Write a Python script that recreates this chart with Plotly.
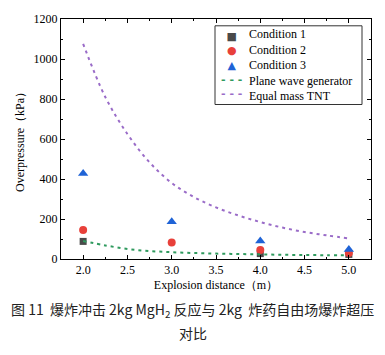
import plotly.graph_objects as go

# ---- data ----
distance = [2.0, 3.0, 4.0, 5.0]
cond1 = [88, None, 27, 23]
cond2 = [145, 82, 45, 30]
cond3 = [427, 186, 90, 47]

curve_x = [2.0, 2.25, 2.5, 2.75, 3.0, 3.25, 3.5, 3.75, 4.0, 4.25, 4.5, 4.75, 5.0]
plane_wave = [90, 68, 50, 40, 34, 30, 27, 25, 23, 21, 20, 19, 18]
tnt = [1076, 810, 625, 483, 380, 310, 258, 218, 185, 157, 135, 118, 103]

x_ticks = [2.0, 2.5, 3.0, 3.5, 4.0, 4.5, 5.0]
x_tick_labels = ["2.0", "2.5", "3.0", "3.5", "4.0", "4.5", "5.0"]
y_ticks = [0, 200, 400, 600, 800, 1000, 1200]

names = ["Condition 1", "Condition 2", "Condition 3", "Plane wave generator", "Equal mass TNT"]
colors = ["#4a4a4a", "#e8403a", "#1f63d6", "#2f9a5e", "#9a6cc8"]

FONT = "Liberation Serif, Times New Roman, serif"

fig = go.Figure()
fig.add_trace(go.Scatter(x=distance, y=cond1, mode="markers", name=names[0],
                         marker=dict(symbol="square", size=7, color=colors[0])))
fig.add_trace(go.Scatter(x=distance, y=cond2, mode="markers", name=names[1],
                         marker=dict(symbol="circle", size=8, color=colors[1])))
fig.add_trace(go.Scatter(x=distance, y=cond3, mode="markers", name=names[2],
                         marker=dict(symbol="triangle-up", size=9, color=colors[2])))
fig.add_trace(go.Scatter(x=curve_x, y=plane_wave, mode="lines", name=names[3],
                         line=dict(color=colors[3], width=2, dash="3px,4px", shape="spline")))
fig.add_trace(go.Scatter(x=curve_x, y=tnt, mode="lines", name=names[4],
                         line=dict(color=colors[4], width=2, dash="3px,4px", shape="spline")))

axis_common = dict(showline=True, linecolor="black", linewidth=1, mirror="allticks",
                   ticks="inside", ticklen=4, tickcolor="black", showgrid=False,
                   zeroline=False, ticklabeloverflow="allow",
                   tickfont=dict(family=FONT, size=12, color="black"))

fig.update_xaxes(range=[1.75, 5.25], tickvals=x_ticks, ticktext=x_tick_labels,
                 minor=dict(ticks="inside", tickvals=[2.25, 2.75, 3.25, 3.75, 4.25, 4.75],
                            ticklen=2, tickcolor="black"),
                 title=dict(text="Explosion distance（m）", font=dict(family=FONT, size=12, color="black"),
                            standoff=4),
                 **axis_common)
fig.update_yaxes(range=[0, 1200], tickvals=y_ticks,
                 minor=dict(ticks="inside", tickvals=[100, 300, 500, 700, 900, 1100],
                            ticklen=2, tickcolor="black"),
                 title=dict(text="Overpressure（kPa）", font=dict(family=FONT, size=12, color="black"),
                            standoff=6),
                 **axis_common)

W, H = 369, 339
L, R, T, B = 53, 6, 4, 88
plot_w = W - L - R
plot_h = H - T - B

fig.update_layout(
    width=W, height=H,
    margin=dict(l=L, r=R, t=T, b=B),
    plot_bgcolor="white", paper_bgcolor="white",
    font=dict(family=FONT, size=12, color="black"),
    showlegend=False,
)

# ---- legend box (drawn as text + frame) ----
def px_x(x):
    return (x - L) / plot_w

def px_y(y):
    return (H - B - y) / plot_h

fig.add_shape(type="rect", xref="paper", yref="paper",
              x0=px_x(207), x1=px_x(354), y0=px_y(92), y1=px_y(11),
              line=dict(color="#333333", width=1), fillcolor="white", layer="above")

symbols = ["■", "●", "▲", "<b>- - -</b>", "<b>- - -</b>"]
sym_text = "<br>".join(f"<span style='color:{c}'>{s}</span>" for s, c in zip(symbols, colors))
fig.add_annotation(text=sym_text, xref="paper", yref="paper", x=px_x(223), y=px_y(51.5),
                   xanchor="center", yanchor="middle", align="center", showarrow=False,
                   font=dict(family="DejaVu Sans", size=11))
fig.add_annotation(text="<br>".join(names), xref="paper", yref="paper", x=px_x(239), y=px_y(51.5),
                   xanchor="left", yanchor="middle", align="left", showarrow=False,
                   font=dict(family=FONT, size=12, color="black"))

# ---- caption ----
fig.add_annotation(text="图 11  爆炸冲击 2kg MgH<sub>2</sub> 反应与 2kg  炸药自由场爆炸超压",
                   xref="paper", yref="paper", x=px_x(184.5), y=px_y(304),
                   xanchor="center", yanchor="middle",
                   showarrow=False, font=dict(family="Noto Sans CJK SC", size=14, color="#222222"))
fig.add_annotation(text="对比",
                   xref="paper", yref="paper", x=px_x(184.5), y=px_y(327),
                   xanchor="center", yanchor="middle",
                   showarrow=False, font=dict(family="Noto Sans CJK SC", size=14, color="#222222"))

fig.write_html("out.html")
